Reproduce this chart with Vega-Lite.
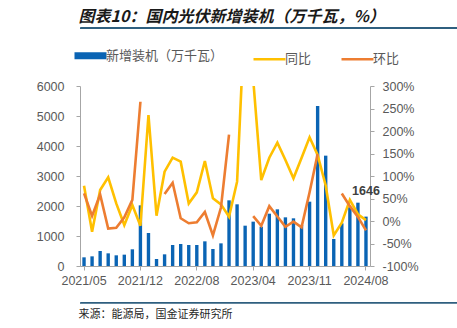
{
  "$schema": "https://vega.github.io/schema/vega-lite/v6.json",
  "padding": {"left": 17, "top": 8, "right": 0, "bottom": 0},
  "background": "white",
  "spacing": 14,
  "config": {"view": {"stroke": null}, "font": "Noto Sans CJK SC"},
  "resolve": {"scale": {"color": "independent"}, "legend": {"color": "independent"}},
  "datasets": {
    "d": [
      {"m": "2021/05", "val": 289, "同比": 78.5, "环比": 61.5},
      {"m": "2021/06", "val": 322, "同比": -23.7, "环比": 11},
      {"m": "2021/07", "val": 500, "同比": 68.9, "环比": 59},
      {"m": "2021/08", "val": 422, "同比": 97, "环比": -17},
      {"m": "2021/09", "val": 356, "同比": 39, "环比": -15},
      {"m": "2021/10", "val": 378, "同比": -9, "环比": 8},
      {"m": "2021/11", "val": 556, "同比": 35.6, "环比": 47},
      {"m": "2021/12", "val": 2022, "同比": -10.4, "环比": 265},
      {"m": "2022/02", "val": 1100, "同比": 235.6, "环比": null},
      {"m": "2022/03", "val": 233, "同比": 11.9, "环比": null},
      {"m": "2022/04", "val": 389, "同比": 109.6, "环比": 60},
      {"m": "2022/05", "val": 700, "同比": 140.7, "环比": 85},
      {"m": "2022/06", "val": 733, "同比": 131.9, "环比": 6},
      {"m": "2022/07", "val": 700, "同比": 39, "环比": -5},
      {"m": "2022/08", "val": 700, "同比": 63.7, "环比": -3},
      {"m": "2022/09", "val": 822, "同比": 133.3, "环比": 20},
      {"m": "2022/10", "val": 567, "同比": 50.4, "环比": -32},
      {"m": "2022/11", "val": 755, "同比": 37, "环比": 30},
      {"m": "2022/12", "val": 2189, "同比": 9.6, "环比": 192},
      {"m": "2023/02", "val": 2056, "同比": 87.4, "环比": null},
      {"m": "2023/03", "val": 1344, "同比": 480, "环比": null},
      {"m": "2023/04", "val": 1478, "同比": 315, "环比": 11},
      {"m": "2023/05", "val": 1311, "同比": 91, "环比": -10.5},
      {"m": "2023/06", "val": 1744, "同比": 140.7, "环比": 33},
      {"m": "2023/07", "val": 1889, "同比": 174, "环比": 10},
      {"m": "2023/08", "val": 1622, "同比": 135.6, "环比": -13},
      {"m": "2023/09", "val": 1589, "同比": 94.8, "环比": -1.5},
      {"m": "2023/10", "val": 1370, "同比": 140, "环比": -14},
      {"m": "2023/11", "val": 2144, "同比": 186, "环比": 64},
      {"m": "2023/12", "val": 5333, "同比": 147, "环比": 149},
      {"m": "2024/02", "val": 3678, "同比": 79, "环比": null},
      {"m": "2024/03", "val": 900, "同比": -32, "环比": null},
      {"m": "2024/04", "val": 1422, "同比": -4, "环比": 61},
      {"m": "2024/05", "val": 1960, "同比": 47, "环比": 33},
      {"m": "2024/07", "val": 2111, "同比": 15, "环比": 9},
      {"m": "2024/08", "val": 1646, "同比": 2, "环比": -21}
    ]
  },
  "vconcat": [
    {
      "width": 440,
      "height": 6,
      "view": {"fill": "#2f5f7f", "stroke": "#2f5f7f", "strokeWidth": 1},
      "title": {"text": "图表10：国内光伏新增装机（万千瓦，%）", "anchor": "start", "fontSize": 16, "fontWeight": "bold", "fontStyle": "italic", "font": "Noto Sans CJK SC", "color": "#1a1a1a", "offset": 2, "dx": 3},
      "data": {"values": [{"x0": -0.01, "x1": 1.01, "a": -0.15, "b": 0.67}]},
      "mark": {"type": "rect", "color": "#ffffff", "opacity": 1, "clip": false},
      "encoding": {
        "x": {"field": "x0", "type": "quantitative", "scale": {"domain": [0, 1]}, "axis": null},
        "x2": {"field": "x1"},
        "y": {"field": "a", "type": "quantitative", "scale": {"domain": [0, 1]}, "axis": null},
        "y2": {"field": "b"}
      }
    },
    {
      "width": 290,
      "height": 180,
      "data": {"name": "d"},
      "layer": [
        {
          "layer": [
            {
              "mark": {"type": "bar"},
              "encoding": {
                "x": {"field": "m", "type": "ordinal", "sort": null, "scale": {"paddingInner": 0.58, "paddingOuter": 0.29},
                  "axis": {"values": ["2021/05", "2021/12", "2022/08", "2023/04", "2023/11", "2024/08"], "labelAngle": 0, "title": null, "domainColor": "#a6a6a6", "tickColor": "#a6a6a6", "tickSize": 4, "labelPadding": 4, "labelColor": "#595959", "labelFont": "Liberation Sans", "labelFontSize": 12.5}},
                "y": {"field": "val", "type": "quantitative", "scale": {"domain": [0, 6000]},
                  "axis": {"values": [0, 1000, 2000, 3000, 4000, 5000, 6000], "format": "d", "labelOverlap": false, "title": null, "grid": false, "domainColor": "#a6a6a6", "tickColor": "#a6a6a6", "tickSize": 4, "labelPadding": 12, "labelColor": "#595959", "labelFont": "Liberation Sans", "labelFontSize": 12.5, "minExtent": 63, "maxExtent": 63}},
                "color": {"datum": "新增装机（万千瓦）", "type": "nominal",
                  "scale": {"domain": ["新增装机（万千瓦）", "同比", "环比"], "range": ["#0a64b4", "#ffc000", "#ed7d31"]},
                  "legend": {"orient": "top", "offset": 16, "direction": "horizontal", "title": null, "symbolType": "stroke", "symbolSize": 1024, "symbolStrokeWidth": 2.5, "symbolOffset": 4, "labelFont": "Noto Sans CJK SC", "labelFontSize": 13, "labelColor": "#595959", "labelOffset": 9, "columnPadding": 24,
                    "encode": {"symbols": {"update": {"strokeWidth": {"signal": "datum.value === '新增装机（万千瓦）' ? 7 : 2.5"}, "stroke": {"signal": "scale('color', datum.value)"}}}}}
                }
              }
            },
            {
              "transform": [{"filter": "datum.m === '2024/08'"}],
              "mark": {"type": "text", "dy": -26, "fontWeight": "bold", "fontSize": 12.5, "color": "#404040", "font": "Liberation Sans"},
              "encoding": {
                "x": {"field": "m", "type": "ordinal", "sort": null},
                "y": {"field": "val", "type": "quantitative",
                  "axis": {"values": [0, 1000, 2000, 3000, 4000, 5000, 6000], "format": "d", "labelOverlap": false, "title": null, "grid": false, "domainColor": "#a6a6a6", "tickColor": "#a6a6a6", "tickSize": 4, "labelPadding": 12, "labelColor": "#595959", "labelFont": "Liberation Sans", "labelFontSize": 12.5, "minExtent": 63, "maxExtent": 63}},
                "text": {"field": "val", "type": "quantitative"}
              }
            }
          ]
        },
        {
          "transform": [{"fold": ["同比", "环比"], "as": ["s", "v"]}],
          "mark": {"type": "line", "strokeWidth": 2.6, "clip": true, "invalid": "break-paths-show-domains"},
          "encoding": {
            "x": {"field": "m", "type": "ordinal", "sort": null},
            "y": {"field": "v", "type": "quantitative", "scale": {"domain": [-100, 300]},
              "axis": {"orient": "right", "values": [-100, -50, 0, 50, 100, 150, 200, 250, 300], "labelExpr": "datum.value + '%'", "labelOverlap": false, "title": null, "grid": false, "domainColor": "#a6a6a6", "tickColor": "#a6a6a6", "tickSize": 4, "labelPadding": 8, "labelColor": "#595959", "labelFont": "Liberation Sans", "labelFontSize": 12.5}},
            "color": {"field": "s", "type": "nominal",
              "legend": {"orient": "top", "offset": 16, "direction": "horizontal", "title": null, "symbolType": "stroke", "symbolSize": 1024, "symbolStrokeWidth": 2.5, "symbolOffset": 4, "labelFont": "Noto Sans CJK SC", "labelFontSize": 13, "labelColor": "#595959", "labelOffset": 9, "columnPadding": 24,
                "encode": {"symbols": {"update": {"strokeWidth": {"signal": "datum.value === '新增装机（万千瓦）' ? 7 : 2.5"}, "stroke": {"signal": "scale('color', datum.value)"}}}}}}
          }
        }
      ],
      "resolve": {"scale": {"y": "independent"}}
    },
    {
      "width": 440,
      "height": 6,
      "view": {"fill": "#2f5f7f", "stroke": "#2f5f7f", "strokeWidth": 1},
      "title": {"text": "来源：能源局，国金证券研究所", "orient": "bottom", "anchor": "start", "fontSize": 11, "fontWeight": "normal", "font": "Noto Sans CJK SC", "color": "#262626", "offset": 0, "dx": 3},
      "data": {"values": [{"x0": -0.01, "x1": 1.01, "a": -0.15, "b": 0.72}]},
      "mark": {"type": "rect", "color": "#ffffff", "opacity": 1, "clip": false},
      "encoding": {
        "x": {"field": "x0", "type": "quantitative", "scale": {"domain": [0, 1]}, "axis": null},
        "x2": {"field": "x1"},
        "y": {"field": "a", "type": "quantitative", "scale": {"domain": [0, 1]}, "axis": null},
        "y2": {"field": "b"}
      }
    }
  ]
}
